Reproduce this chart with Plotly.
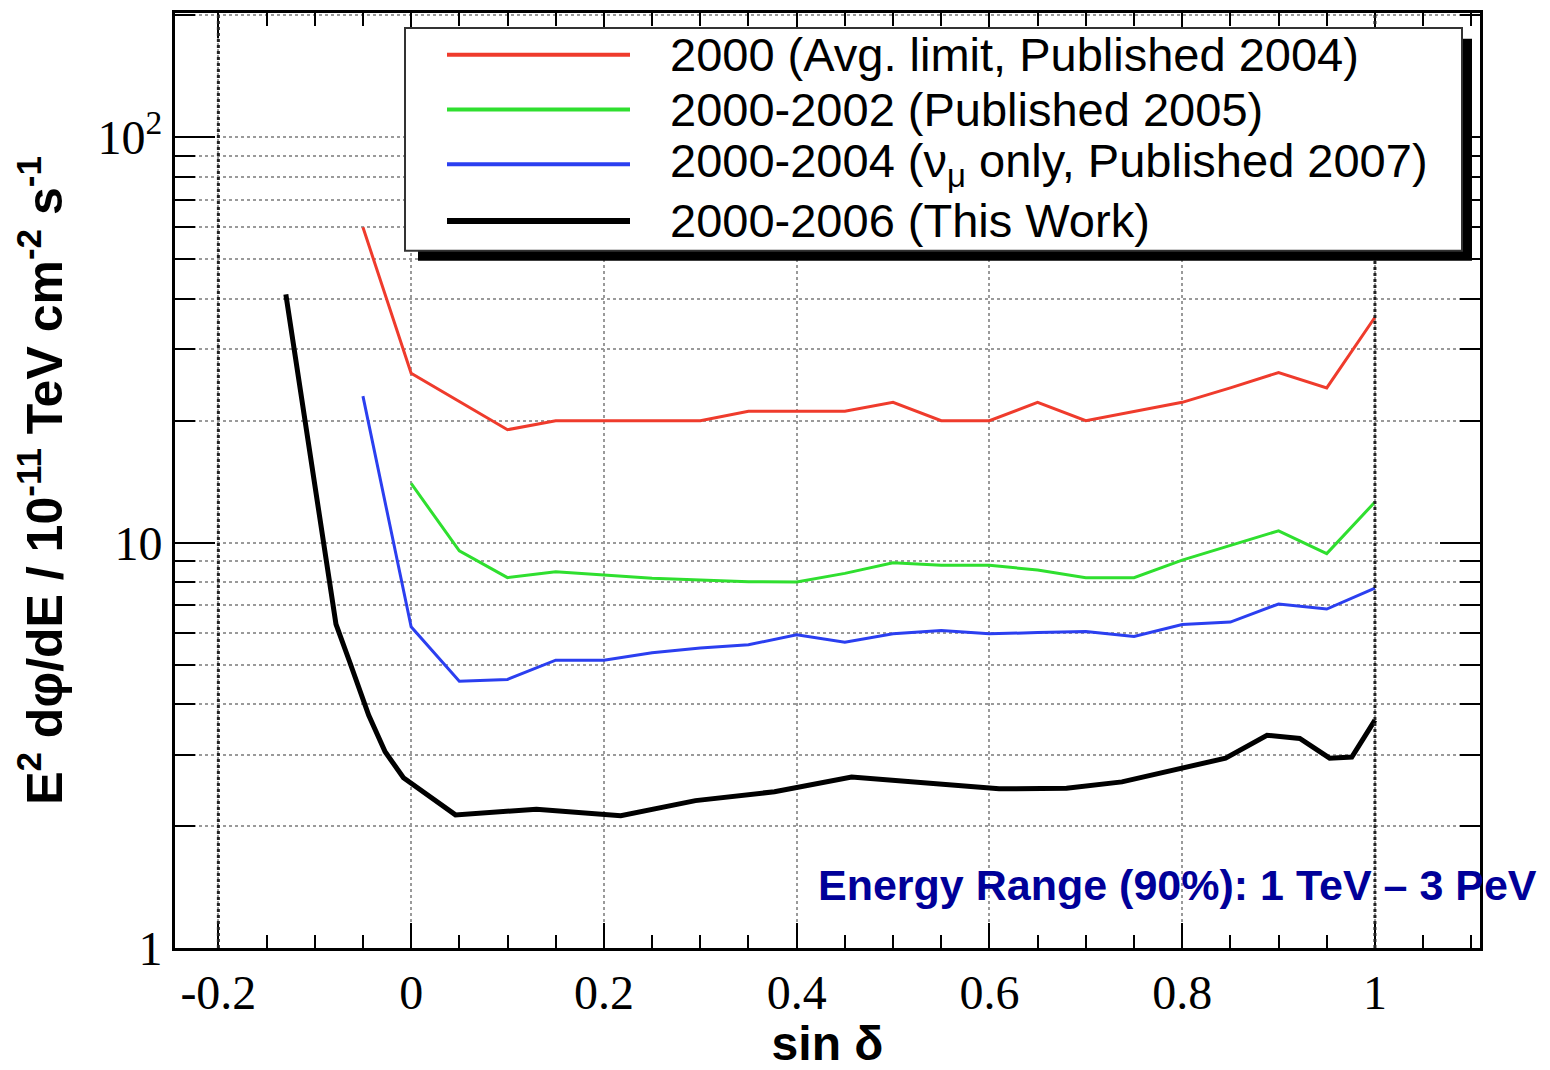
import plotly.graph_objects as go

# ---------------- data ----------------
sin_dec_grid = [-0.05, 0.0, 0.05, 0.10, 0.15, 0.20, 0.25, 0.30, 0.35, 0.40, 0.45,
                0.50, 0.55, 0.60, 0.65, 0.70, 0.75, 0.80, 0.85, 0.90, 0.95, 1.00]

red_y = [60.0, 26.2, 22.3, 19.0, 20.0, 20.0, 20.0, 20.0, 21.1, 21.1, 21.1,
         22.2, 20.0, 20.0, 22.2, 20.0, 21.1, 22.2, 24.1, 26.3, 24.1, 36.0]

green_x = sin_dec_grid[1:]
green_y = [14.0, 9.55, 8.2, 8.48, 8.32, 8.17, 8.09, 8.01, 8.0, 8.4,
           8.92, 8.8, 8.8, 8.56, 8.2, 8.2, 9.06, 9.86, 10.7, 9.4, 12.6]

blue_y = [23.0, 6.2, 4.55, 4.6, 5.13, 5.13, 5.35, 5.5, 5.6, 5.93, 5.68,
          5.96, 6.07, 5.96, 6.0, 6.04, 5.87, 6.28, 6.37, 7.06, 6.86, 7.73]

black_x = [-0.13, -0.078, -0.064, -0.044, -0.027, -0.008, 0.046, 0.13, 0.2175,
           0.295, 0.377, 0.457, 0.61, 0.68, 0.7375, 0.80, 0.845, 0.888, 0.922,
           0.953, 0.976, 1.0]
black_y = [41.0, 6.3, 5.1, 3.75, 3.05, 2.63, 2.13, 2.20, 2.12, 2.31, 2.43, 2.64,
           2.47, 2.48, 2.57, 2.78, 2.94, 3.35, 3.29, 2.94, 2.96, 3.65]

series_names = ["2000 (Avg. limit, Published 2004)",
                "2000-2002 (Published 2005)",
                "2000-2004 (ν<sub>μ</sub> only, Published 2007)",
                "2000-2006 (This Work)"]
series_colors = ["#ef3b2c", "#2fdf2f", "#2b3ff0", "#000000"]
series_widths = [3, 3, 3, 5]
series_x = [sin_dec_grid, green_x, sin_dec_grid, black_x]
series_y = [red_y, green_y, blue_y, black_y]

x_tickvals = [-0.2, 0, 0.2, 0.4, 0.6, 0.8, 1.0]
x_ticktext = ["-0.2", "0", "0.2", "0.4", "0.6", "0.8", "1"]
y_tickvals = [1, 10, 100]
y_ticktext = ["1", "10", "10<sup>2</sup>"]
y_minor_vals = [2, 3, 4, 5, 6, 7, 8, 9, 20, 30, 40, 50, 60, 70, 80, 90, 200]

x_title = "<b>sin δ</b>"
y_title = "<b>E<sup>2</sup> dφ/dE / 10<sup>-11</sup> TeV cm<sup>-2</sup> s<sup>-1</sup></b>"
energy_note = "<b>Energy Range (90%): 1 TeV – 3 PeV</b>"

# ---------------- figure ----------------
fig = go.Figure()
for name, col, w, xs, ys in zip(series_names, series_colors, series_widths, series_x, series_y):
    fig.add_trace(go.Scatter(x=xs, y=ys, mode="lines", name=name,
                             line=dict(color=col, width=w), showlegend=False))

L, R, T, B = 175, 70, 10, 120
W, H = 1550, 1070
pw, ph = W - L - R, H - T - B


def px(xp):
    return (xp - L) / pw


def py(yp):
    return (H - B - yp) / ph


fig.update_layout(
    width=W, height=H,
    margin=dict(l=L, r=R, t=T, b=B),
    paper_bgcolor="white", plot_bgcolor="white",
    showlegend=False,
)

fig.update_xaxes(
    range=[-0.245, 1.109],
    tickmode="array", tickvals=x_tickvals, ticktext=x_ticktext,
    ticks="inside", ticklen=25, tickwidth=2, tickcolor="black",
    showline=True, linewidth=3, linecolor="black", mirror="allticks",
    showgrid=True, gridcolor="#9a9a9a", gridwidth=2, griddash="dot",
    zeroline=False,
    tickfont=dict(family="Liberation Serif", size=48, color="black"),
    minor=dict(tick0=0, dtick=0.05, ticks="inside", ticklen=13, tickwidth=2,
               tickcolor="black", showgrid=False),
    title=dict(text=x_title, font=dict(family="Liberation Sans", size=48, color="black"),
               standoff=8),
)

fig.update_yaxes(
    type="log", range=[0, 2.307],
    tickmode="array", tickvals=y_tickvals, ticktext=y_ticktext,
    ticks="inside", ticklen=40, tickwidth=2, tickcolor="black",
    showline=True, linewidth=3, linecolor="black", mirror="allticks",
    showgrid=True, gridcolor="#9a9a9a", gridwidth=2, griddash="dot",
    zeroline=False,
    tickfont=dict(family="Liberation Serif", size=48, color="black"),
    minor=dict(tickmode="array", tickvals=y_minor_vals, ticks="inside", ticklen=20,
               tickwidth=2, tickcolor="black",
               showgrid=True, gridcolor="#9a9a9a", gridwidth=2, griddash="dot"),
    title=dict(text=y_title, font=dict(family="Liberation Sans", size=50, color="black"),
               standoff=20),
)

# darker dotted lines at -0.2 and 1
for xv in [-0.2, 1.0]:
    fig.add_shape(type="line", xref="x", yref="paper", x0=xv, x1=xv, y0=0, y1=1,
                  line=dict(color="#222222", width=3, dash="dot"), layer="above")

# ---------------- legend (manual, ROOT style with shadow) ----------------
fig.add_shape(type="rect", xref="paper", yref="paper",
              x0=px(418), x1=px(1472), y0=py(259), y1=py(36),
              fillcolor="black", line=dict(width=0), layer="above")
fig.add_shape(type="rect", xref="paper", yref="paper",
              x0=px(405), x1=px(1462), y0=py(249), y1=py(25),
              fillcolor="white", line=dict(color="#333333", width=2), layer="above")
row_y = [52, 107, 162, 219]
for name, col, w, ry in zip(series_names, series_colors, series_widths, row_y):
    fig.add_shape(type="line", xref="paper", yref="paper",
                  x0=px(447), x1=px(630), y0=py(ry), y1=py(ry),
                  line=dict(color=col, width=w + 1), layer="above")
    fig.add_annotation(xref="paper", yref="paper", x=px(668), y=py(ry),
                       xanchor="left", yanchor="middle", text=name, showarrow=False,
                       font=dict(family="Liberation Sans", size=47, color="black"))

fig.add_annotation(xref="paper", yref="paper", x=px(816), y=py(887),
                   xanchor="left", yanchor="middle", text=energy_note, showarrow=False,
                   font=dict(family="Liberation Sans", size=43, color="#000099"))

fig.write_html("out.html")
